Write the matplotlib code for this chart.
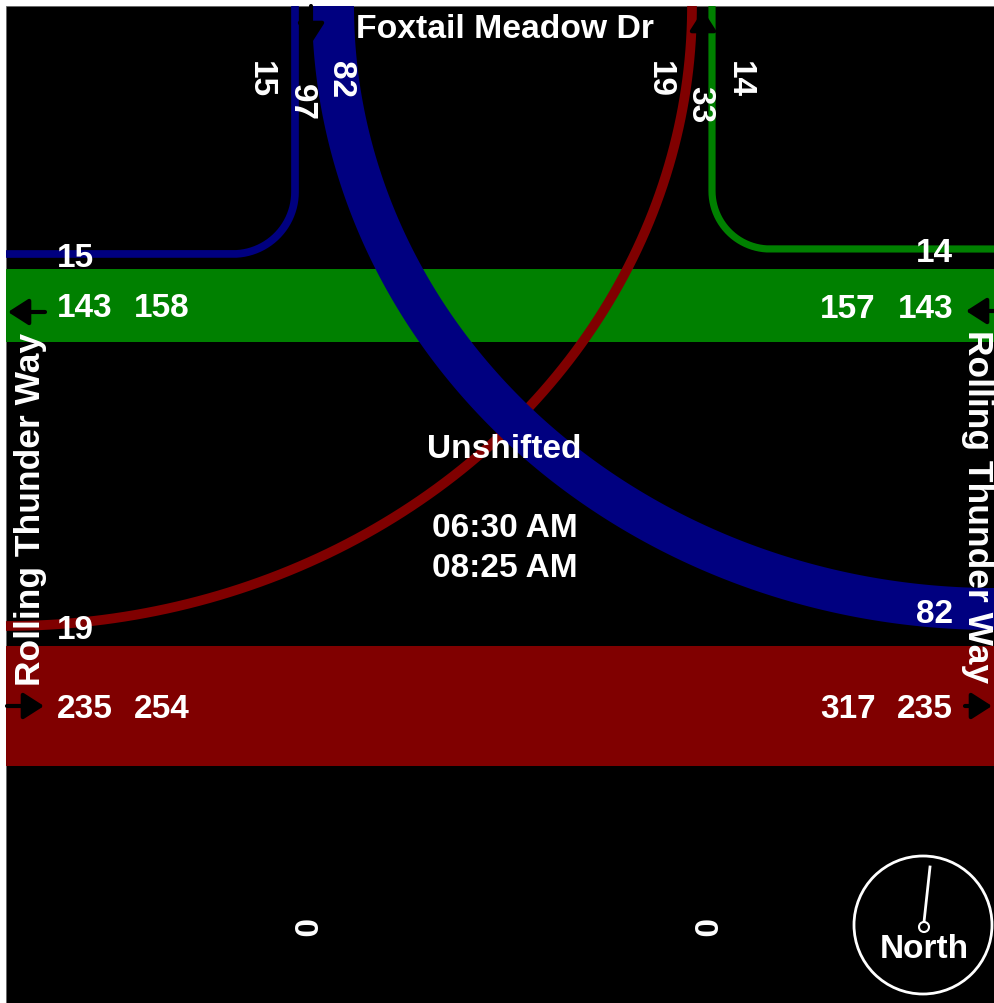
import numpy as np
import matplotlib
matplotlib.use("Agg")
import matplotlib.pyplot as plt
from matplotlib.patches import Rectangle, Circle, Polygon

# ---------------- data ----------------
road_north = "Foxtail Meadow Dr"
road_east_west = "Rolling Thunder Way"
title_text = "Unshifted"
period = ["06:30 AM", "08:25 AM"]

# turning movement volumes
sb_right = 15      # north -> west
sb_left = 82       # north -> east
eb_left = 19       # west  -> north
wb_right = 14      # east  -> north
wb_through = 143   # east  -> west
eb_through = 235   # west  -> east
south_leg = [0, 0]  # in / out on the south leg

# leg totals
sb_total = sb_right + sb_left          # 97
nb_exit = eb_left + wb_right           # 33
west_exit = wb_through + sb_right      # 158
wb_total = wb_through + wb_right       # 157
eb_total = eb_through + eb_left        # 254
east_exit = eb_through + sb_left       # 317

north_labels = [sb_right, sb_total, sb_left, eb_left, nb_exit, wb_right]
west_labels = [sb_right, wb_through, west_exit, eb_left, eb_through, eb_total]
east_labels = [wb_right, wb_total, wb_through, sb_left, east_exit, eb_through]

# ---------------- style / layout ----------------
W, H = 994, 1004
PX = 0.512                     # pixels per vehicle
BLUE, GREEN, RED = "#000080", "#008000", "#800000"
FONT = "Liberation Sans"
FS = 24
CAP = 12                       # half cap height in px

L, T = 6, 7                    # black area left / top
y_green, y_red = 306.5, 707    # through band centres
x_sb, y_sb, r_sb = 295, 255, 62
x_wbr, y_wbr, r_wbr = 712, 250, 58
x_eb_top, y_eb_left = 692, 627
x_sbl_top, y_sbl_right = 333, 610

fig = plt.figure(figsize=(W / 100, H / 100), dpi=100, facecolor="white")
ax = fig.add_axes([0, 0, 1, 1])
ax.set_xlim(0, W)
ax.set_ylim(H, 0)
ax.axis("off")

def lw(px):
    return px * 72 / 100

bg = Rectangle((L, T), W - L, H - T, fc="black", ec="#666666", lw=0.6, zorder=0)
ax.add_patch(bg)

# through bands
hg = wb_through * PX
ax.add_patch(Rectangle((L, y_green - hg / 2), W - L, hg, fc=GREEN, ec="none", zorder=1))
hr = eb_through * PX
ax.add_patch(Rectangle((L, y_red - hr / 2), W - L, hr, fc=RED, ec="none", zorder=1))

t = np.linspace(0, np.pi / 2, 200)

# EB left (west -> north), red thin curve
a, b = x_eb_top - L, y_eb_left - T
ax.plot(L + a * np.sin(t), T + b * np.cos(t), color=RED, lw=lw(eb_left * PX),
        solid_capstyle="butt", zorder=2)

# WB right (east -> north), green thin with rounded corner
cx, cy = x_wbr + r_wbr, y_wbr - r_wbr
xs = np.concatenate([[W], cx - r_wbr * np.sin(t), [x_wbr]])
ys = np.concatenate([[y_wbr], cy + r_wbr * np.cos(t), [T]])
ax.plot(xs, ys, color=GREEN, lw=lw(wb_right * PX), solid_capstyle="butt", zorder=2)

# SB right (north -> west), blue thin with rounded corner
cx, cy = x_sb - r_sb, y_sb - r_sb
xs = np.concatenate([[L], cx + r_sb * np.sin(t), [x_sb]])
ys = np.concatenate([[y_sb], cy + r_sb * np.cos(t), [T]])
ax.plot(xs, ys, color=BLUE, lw=lw(sb_right * PX), solid_capstyle="butt", zorder=2)

# SB left (north -> east), blue thick band
w = sb_left * PX
A, B = W - x_sbl_top, y_sbl_right - T
outer = np.column_stack([W - (A + w / 2) * np.cos(t), T + (B + w / 2) * np.sin(t)])
inner = np.column_stack([W - (A - w / 2) * np.cos(t), T + (B - w / 2) * np.sin(t)])
ax.add_patch(Polygon(np.vstack([outer, inner[::-1]]), closed=True, fc=BLUE, ec="none",
                     zorder=3))

# direction arrows
def arrow(x0, y0, x1, y1):
    ax.annotate("", xy=(x1, y1), xytext=(x0, y0),
                arrowprops=dict(arrowstyle="-|>,head_length=0.5,head_width=0.32",
                                color="black", lw=3, mutation_scale=25,
                                shrinkA=0, shrinkB=0, capstyle="round"),
                zorder=6)

arrow(45, 313, 8, 313)        # west exit
arrow(7, 707, 44, 707)        # west entry
arrow(W, 312, 966, 312)       # east entry
arrow(965, 707, W - 2, 707)   # east exit
arrow(311, T, 311, 45)        # north entry
arrow(703, 45, 703, T + 4)    # north exit

txt = dict(color="white", fontweight="bold", family=FONT, fontsize=FS,
           rotation_mode="anchor", va="baseline", zorder=8)

# top (rotated) labels
top_x = [264, 305, 344, 663, 703, 743]
top_y = [61, 84, 61, 61, 86, 61]
for v, x, y in zip(north_labels, top_x, top_y):
    ax.text(x - CAP, y, str(v), rotation=-90, ha="left", **txt)

# west side labels
west_pos = [(57, 255), (57, 305), (134, 305), (57, 627), (57, 706), (134, 706)]
for v, (x, y) in zip(west_labels, west_pos):
    ax.text(x, y + CAP, str(v), ha="left", **txt)

# east side labels
east_pos = [(953, 250), (875, 306), (953, 306), (953, 611), (876, 706), (953, 706)]
for v, (x, y) in zip(east_labels, east_pos):
    ax.text(x, y + CAP, str(v), ha="right", **txt)

# south leg labels
for v, x in zip(south_leg, [305, 705]):
    ax.text(x - CAP, 928, str(v), rotation=-90, ha="center", **txt)

# road names
ax.text(505, 38, road_north, ha="center", **{**txt, "fontsize": 24.3})
ax.text(40, 509, road_east_west, rotation=90, ha="center", **{**txt, "fontsize": 25.5})
ax.text(968, 507, road_east_west, rotation=-90, ha="center", **{**txt, "fontsize": 25.5})

# centre text
ax.text(504, 458, title_text, ha="center", **txt)
ax.text(505, 537, period[0], ha="center", **txt)
ax.text(505, 577, period[1], ha="center", **txt)

# compass
ax.add_patch(Circle((923, 926), 69, fill=False, ec="white", lw=2, zorder=7))
ax.plot([924, 930], [923, 868], color="white", lw=2, zorder=7)
ax.add_patch(Circle((924, 928), 5, fc="black", ec="white", lw=1.5, zorder=8))
ax.text(924, 958, "North", ha="center", **txt)

fig.savefig("out.png", dpi=100, facecolor="white")
